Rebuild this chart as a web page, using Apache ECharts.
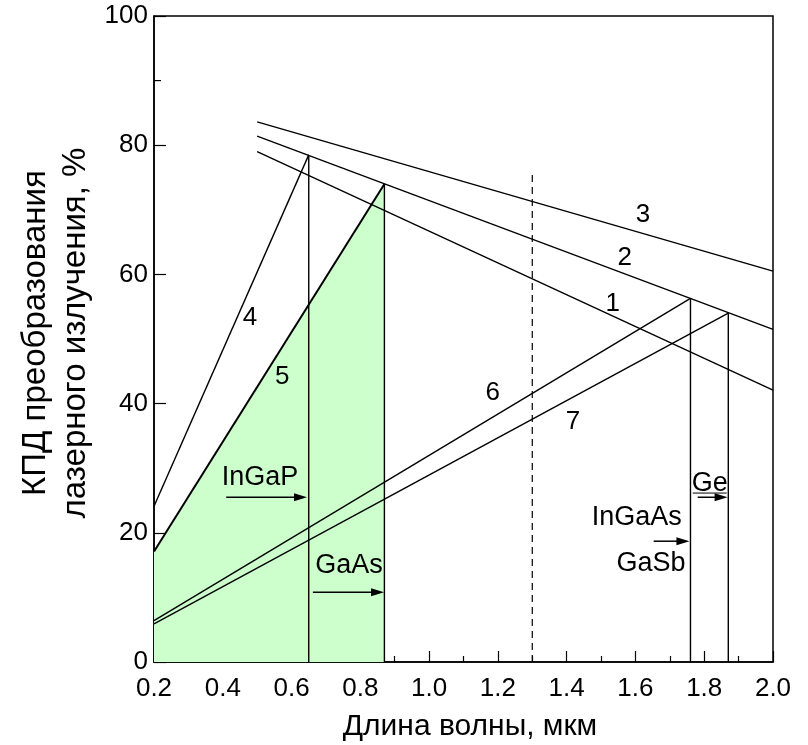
<!DOCTYPE html>
<html>
<head>
<meta charset="utf-8">
<script src="https://cdn.jsdelivr.net/npm/echarts@6/dist/echarts.min.js"></script>
<style>
html,body{margin:0;padding:0;background:#fff;}
#chart{width:808px;height:745px;}
</style>
</head>
<body>
<div id="chart"></div>
<script>
// ---- data ----
const xTickValues = [0.2, 0.4, 0.6, 0.8, 1.0, 1.2, 1.4, 1.6, 1.8, 2.0];
const yTickValues = [0, 20, 40, 60, 80, 100];
const yMinorTicks = [90];
const curve1 = [[0.5, 79.0], [2.0, 42.1]];
const curve2 = [[0.5, 81.4], [2.0, 51.5]];
const curve3 = [[0.5, 83.6], [2.0, 60.5]];
const curve4 = [[0.2, 24.1], [0.65, 78.5]];
const curve5 = [[0.2, 17.1], [0.87, 74.0]];
const curve6 = [[0.2, 6.4], [1.76, 56.3]];
const curve7 = [[0.2, 5.9], [1.87, 54.0]];
const cutoffX = [0.65, 0.87, 1.76, 1.87];
const cutoffTop = [78.5, 74.0, 56.3, 54.0];
const dashedLine = [[1.3, 0], [1.3, 76]];
const curveLabels = ['1', '2', '3', '4', '5', '6', '7'];
const curveLabelAt = [[1.534, 55.5], [1.569, 62.5], [1.622, 69.2], [0.479, 53.2], [0.573, 44.2], [1.185, 41.7], [1.418, 37.2]];
const materialLabels = ['InGaP', 'GaAs', 'InGaAs', 'GaSb', 'Ge'];
const materialLabelAt = [[0.508, 28.5], [0.767, 15.0], [1.604, 22.3], [1.645, 15.3], [1.816, 27.7]];
const arrowFrom = [[0.41, 25.5], [0.662, 10.8], [1.653, 18.7], [1.781, 25.5]];
const arrowTo = [[0.645, 25.5], [0.869, 10.8], [1.757, 18.7], [1.868, 25.5]];

const FONT = 'Liberation Sans, Arial, sans-serif';
const chart = echarts.init(document.getElementById('chart'), null, {renderer: 'canvas'});

function lineSeries(data, extra) {
  return Object.assign({
    type: 'line', data: data, symbol: 'none', silent: true, animation: false,
    lineStyle: {color: '#000', width: 1.4}
  }, extra || {});
}

const series = [];
series.push(lineSeries(curve5, {areaStyle: {color: '#ccffcc', opacity: 1, origin: 'start'}, lineStyle: {color: '#000', width: 2}, z: 1}));
[curve1, curve2, curve3, curve4, curve6, curve7].forEach(c => series.push(lineSeries(c, {z: 3})));
cutoffX.forEach((x, i) => series.push(lineSeries([[x, 0], [x, cutoffTop[i]]], {z: 3})));
series.push(lineSeries(dashedLine, {lineStyle: {color: '#000', width: 1.2, type: [7, 5]}, z: 3}));

const option = {
  animation: false,
  backgroundColor: '#fff',
  grid: {left: 154, right: 35, top: 16, bottom: 83, show: true, borderColor: '#000', borderWidth: 1.5, backgroundColor: 'transparent'},
  xAxis: {
    type: 'value', min: 0.2, max: 2.0, interval: 0.2,
    axisLine: {show: true, onZero: false, lineStyle: {color: '#000', width: 1.5}},
    axisTick: {show: true, inside: true, length: 11, lineStyle: {color: '#000', width: 1.2}},
    minorTick: {show: true, splitNumber: 2, length: 6, lineStyle: {color: '#000', width: 1.2}},
    splitLine: {show: false},
    axisLabel: {color: '#000', fontSize: 26, fontFamily: FONT, margin: 14,
      formatter: v => { const m = xTickValues.find(t => Math.abs(t - v) < 1e-6); return m === undefined ? '' : m.toFixed(1); }}
  },
  yAxis: {
    type: 'value', min: 0, max: 100, interval: 20,
    axisLine: {show: true, lineStyle: {color: '#000', width: 1.5}},
    axisTick: {show: true, inside: true, length: 12, lineStyle: {color: '#000', width: 1.2}},
    minorTick: {show: false},
    splitLine: {show: false},
    axisLabel: {color: '#000', fontSize: 26, fontFamily: FONT, margin: 6,
      formatter: v => { const m = yTickValues.find(t => Math.abs(t - v) < 1e-6); return m === undefined ? '' : String(m); }}
  },
  series: series
};
chart.setOption(option);

// ---- annotations placed through the axes' own scales ----
const toPx = p => chart.convertToPixel({gridIndex: 0}, p);
const graphics = [];
yMinorTicks.forEach(v => {
  const p = toPx([0.2, v]);
  graphics.push({type: 'line', z: 10, shape: {x1: p[0], y1: p[1], x2: p[0] + 7, y2: p[1]}, style: {stroke: '#000', lineWidth: 1.2}});
});
curveLabels.forEach((t, i) => {
  const p = toPx(curveLabelAt[i]);
  graphics.push({type: 'text', x: p[0], y: p[1], z: 10, style: {text: t, fill: '#000', font: '26px ' + FONT, textAlign: 'center', textVerticalAlign: 'middle'}});
});
materialLabels.forEach((t, i) => {
  const p = toPx(materialLabelAt[i]);
  graphics.push({type: 'text', x: p[0], y: p[1], z: 10, style: {text: t, fill: '#000', font: '27px ' + FONT, textAlign: 'center', textVerticalAlign: 'middle'}});
});
// underline under "Ge"
(function () {
  const p = toPx(materialLabelAt[4]);
  graphics.push({type: 'line', z: 10, shape: {x1: p[0] - 17, y1: p[1] + 10, x2: p[0] + 17, y2: p[1] + 10}, style: {stroke: '#000', lineWidth: 1}});
})();
arrowFrom.forEach((a, i) => {
  const p1 = toPx(a), p2 = toPx(arrowTo[i]);
  const head = 13, half = 4;
  graphics.push({type: 'line', z: 10, shape: {x1: p1[0], y1: p1[1], x2: p2[0] - head + 1, y2: p2[1]}, style: {stroke: '#000', lineWidth: 1.5}});
  graphics.push({type: 'polygon', z: 10, shape: {points: [[p2[0], p2[1]], [p2[0] - head, p2[1] - half], [p2[0] - head, p2[1] + half]]}, style: {fill: '#000'}});
});
// axis titles
graphics.push({type: 'text', x: 470, y: 727, z: 10, style: {text: 'Длина волны, мкм', fill: '#000', font: '30px ' + FONT, textAlign: 'center', textVerticalAlign: 'middle'}});
graphics.push({type: 'text', x: 56, y: 333, rotation: Math.PI / 2, z: 10, style: {text: 'КПД преобразования\nлазерного излучения, %', fill: '#000', font: '33px ' + FONT, textAlign: 'center', textVerticalAlign: 'middle', lineHeight: 40}});
chart.setOption({graphic: graphics});
</script>
</body>
</html>
